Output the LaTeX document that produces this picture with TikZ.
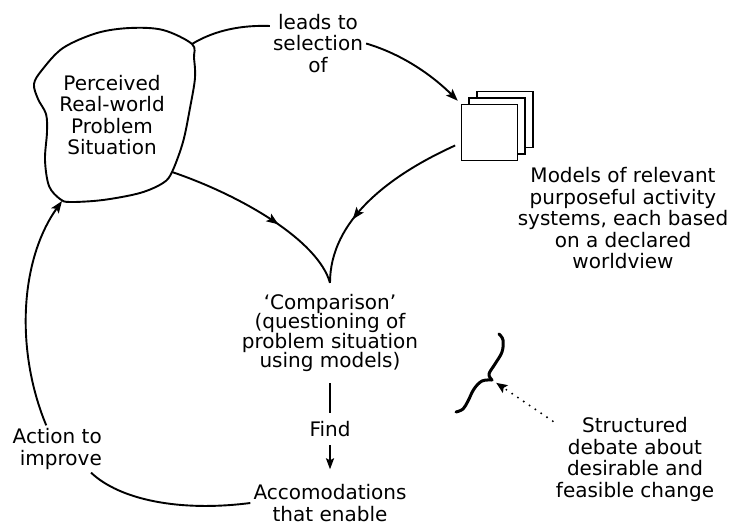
\documentclass[tikz,border=0pt]{standalone}
\usepackage{fontspec}
\setmainfont{DejaVu Sans}
\usetikzlibrary{arrows.meta,decorations.markings}

\tikzset{
  txt/.style={align=center, inner sep=3pt, font=\fontsize{20}{21.5}\selectfont},
  line/.style={line width=1.9pt},
  tip/.style={-{Stealth[length=12pt,width=9pt,inset=2.5pt]}},
  midtip/.style={postaction={decorate}, decoration={markings,
      mark=at position #1 with {\arrow{Stealth[length=12pt,width=9pt,inset=2.5pt]}}}},
  sheet/.style={draw, line width=1.8pt, fill=white, minimum size=56pt, inner sep=0pt},
  dots/.style={line width=2.2pt, line cap=round, dash pattern=on 0pt off 7pt},
}

\begin{document}
\begin{tikzpicture}[x=1pt,y=-1pt]
    \useasboundingbox (0,0) rectangle (730,527);

    % the problem situation, drawn as a blob
    \draw[line] plot[smooth cycle, tension=0.55] coordinates {(192,44) (163,30) (130,28) (97,33) (63,48) (42,70) (34,84) (38,99) (46,114) (47,132) (45,160) (49,186) (60,199) (70,202) (103,200) (140,193) (163,183) (172,172) (183,142) (190,108) (195,78) (194,58)};
    \coordinate (blobNE) at (192,44);
    \coordinate (blobSE) at (172,172);
    \coordinate (blobSW) at (62,201);

    \node[txt] (situation) at (112,115) {Perceived\\Real-world\\Problem\\Situation};
    \node[txt] (leads) at (318,43.5) {leads to\\selection\\of};
    \node[sheet] (sys3) at (505,119.5) {};
    \node[sheet] (sys2) at (497,126) {};
    \node[sheet] (sys1) at (489.5,132.5) {};
    \node[txt] (models) at (623,218.5) {Models of relevant\\purposeful activity\\systems, each based\\on a declared\\worldview};
    \node[txt, font=\fontsize{20}{19.5}\selectfont] (comp) at (330,333) {`Comparison'\\(questioning of\\problem situation\\using models)};
    \node[txt] (find) at (330,429.5) {Find};
    \node[txt] (accom) at (330,503) {Accomodations\\that enable};
    \node[txt, align=right, anchor=east] (action) at (105,449) {Action to\\improve};
    \node[txt] (debate) at (635,459.5) {Structured\\debate about\\desirable and\\feasible change};
    \coordinate (merge) at ([yshift=8pt]comp.north);

    \draw[line] (blobNE) .. controls (215,30) and (242,25) .. (leads.160);
    \draw[line, tip, shorten >=4pt] (leads.east) .. controls (405,55) and (435,78) .. (sys1.north west);
    \draw[line, midtip=0.6] (blobSE) .. controls (240,195) and (318,240) .. (merge);
    \draw[line, midtip=0.66, shorten <=6pt] (sys1.200) .. controls (390,175) and (330,220) .. (merge);
    \draw[line, shorten <=8pt, shorten >=6pt] (comp.south) -- (find.north);
    \draw[line, -{Stealth[length=11pt,width=8pt,inset=2pt]}, shorten <=5pt, shorten >=12pt] (find.south) -- (accom.north);
    \draw[line] (accom.west) .. controls (180,512) and (120,500) .. (action.-35);
    \draw[line, tip] (action.115) .. controls (15,350) and (20,260) .. (blobSW);

    % brace and the dotted pointer to it
    \draw[line width=3pt, line cap=round, line join=round] plot[smooth, tension=0.6] coordinates {(499,334) (503,340) (502,352) (495,364) (489,374) (492,380)};
    \draw[line width=3pt, line cap=round, line join=round] plot[smooth, tension=0.6] coordinates {(492,380) (482,381) (474,389) (468,401) (463,409) (456,412)};
    \coordinate (bracetip) at (492,380);
    \draw[dots, -{Stealth[length=11pt,width=9pt,inset=2pt]}, shorten >=5pt] (debate.155) -- (bracetip);
\end{tikzpicture}
\end{document}
